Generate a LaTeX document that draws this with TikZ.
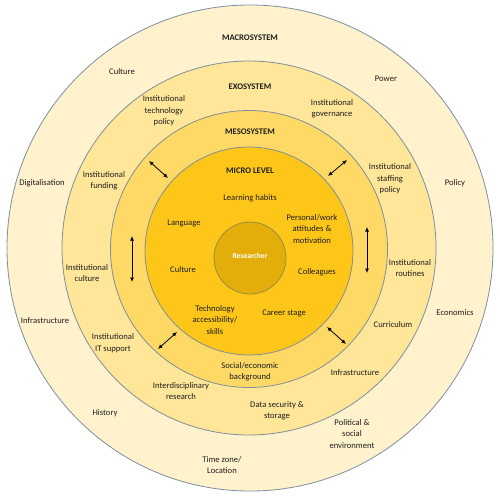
\documentclass[tikz,border=0pt]{standalone}
\usepackage{fontspec}
\setmainfont{Carlito}
\usetikzlibrary{arrows.meta}
\definecolor{macroc}{HTML}{FFF2CC}
\definecolor{exoc}{HTML}{FFE699}
\definecolor{mesoc}{HTML}{FFD966}
\definecolor{microc}{HTML}{FFC61A}
\definecolor{resc}{HTML}{E3AE0A}
\definecolor{edgec}{HTML}{7F8E9C}
\definecolor{resedge}{HTML}{9A8C45}
\definecolor{txtc}{HTML}{1E1E1E}
\tikzset{
  x=1pt, y=-1pt,
  ring/.style={draw=edgec, line width=0.8pt},
  lbl/.style={font=\fontsize{8.6}{11.4}\selectfont, text=txtc, align=center, inner sep=0pt},
  ttl/.style={font=\fontsize{8.6}{11.4}\selectfont\bfseries, text=txtc, inner sep=0pt},
  arr/.style={{Latex[length=4.5pt,width=4pt]}-{Latex[length=4.5pt,width=4pt]}, line width=0.8pt, black},
}
\begin{document}
\begin{tikzpicture}
\useasboundingbox (0,0) rectangle (500,499);
\fill[white] (0,0) rectangle (500,499);
% rings
\draw[ring, fill=macroc] (250,248) circle[radius=243];
\draw[ring, fill=exoc] (249,248) circle[radius=187];
\draw[ring, fill=mesoc] (249,249) circle[radius=138.5];
\draw[ring, fill=microc] (249,251) circle[radius=104];
\draw[ring, draw=resedge, fill=resc] (250,258) circle[radius=36];
% titles
\node[ttl] (tmacro) at (250,38) {MACROSYSTEM};
\node[ttl] (texo) at (250,87) {EXOSYSTEM};
\node[ttl] (tmeso) at (250,132) {MESOSYSTEM};
\node[ttl] (tmicro) at (250,171) {MICRO LEVEL};
\node[font=\fontsize{7.6}{9}\selectfont\bfseries, text=white, inner sep=0pt] (res) at (250,256) {Researcher};
% macro
\node[lbl] (m1) at (122,72) {Culture};
\node[lbl] (m2) at (386,79) {Power};
\node[lbl] (m3) at (42,183) {Digitalisation};
\node[lbl] (m4) at (455,183) {Policy};
\node[lbl] (m5) at (45,321) {Infrastructure};
\node[lbl] (m6) at (455,313) {Economics};
\node[lbl] (m7) at (105,413) {History};
\node[lbl] (m8) at (222,465) {Time zone/\\Location};
\node[lbl] (m9) at (352,434) {Political \&\\social\\environment};
% exo
\node[lbl] (e1) at (164,111) {Institutional\\technology\\policy};
\node[lbl] (e2) at (332,109) {Institutional\\governance};
\node[lbl] (e3) at (104,181) {Institutional\\funding};
\node[lbl] (e4) at (390,179) {Institutional\\staffing\\policy};
\node[lbl] (e5) at (87,273) {Institutional\\culture};
\node[lbl] (e6) at (410,268) {Institutional\\routines};
\node[lbl] (e7) at (113,343) {Institutional\\IT support};
\node[lbl] (e8) at (393,325) {Curriculum};
\node[lbl] (e9) at (355,373) {Infrastructure};
\node[lbl] (e10) at (181,391) {Interdisciplinary\\research};
\node[lbl] (e11) at (277,411) {Data security \&\\storage};
% meso
\node[lbl] (s1) at (250,372) {Social/economic\\background};
% micro
\node[lbl] (u1) at (250,198) {Learning habits};
\node[lbl] (u2) at (184,223) {Language};
\node[lbl] (u3) at (312,229) {Personal/work\\attitudes \&\\motivation};
\node[lbl] (u4) at (183,270) {Culture};
\node[lbl] (u5) at (317,272) {Colleagues};
\node[lbl] (u6) at (215,320) {Technology\\accessibility/\\skills};
\node[lbl] (u7) at (284,313) {Career stage};
% arrows
\coordinate (a1s) at (149,161); \coordinate (a1e) at (168,178);
\coordinate (a2s) at (347,160); \coordinate (a2e) at (328,176);
\coordinate (a3s) at (132,236); \coordinate (a3e) at (132,282);
\coordinate (a4s) at (367,227); \coordinate (a4e) at (367,273);
\coordinate (a5s) at (158,349); \coordinate (a5e) at (177,332);
\coordinate (a6s) at (327,327); \coordinate (a6e) at (346,344);
\draw[arr] (a1s) -- (a1e);
\draw[arr] (a2s) -- (a2e);
\draw[arr] (a3s) -- (a3e);
\draw[arr] (a4s) -- (a4e);
\draw[arr] (a5s) -- (a5e);
\draw[arr] (a6s) -- (a6e);
\end{tikzpicture}
\end{document}
